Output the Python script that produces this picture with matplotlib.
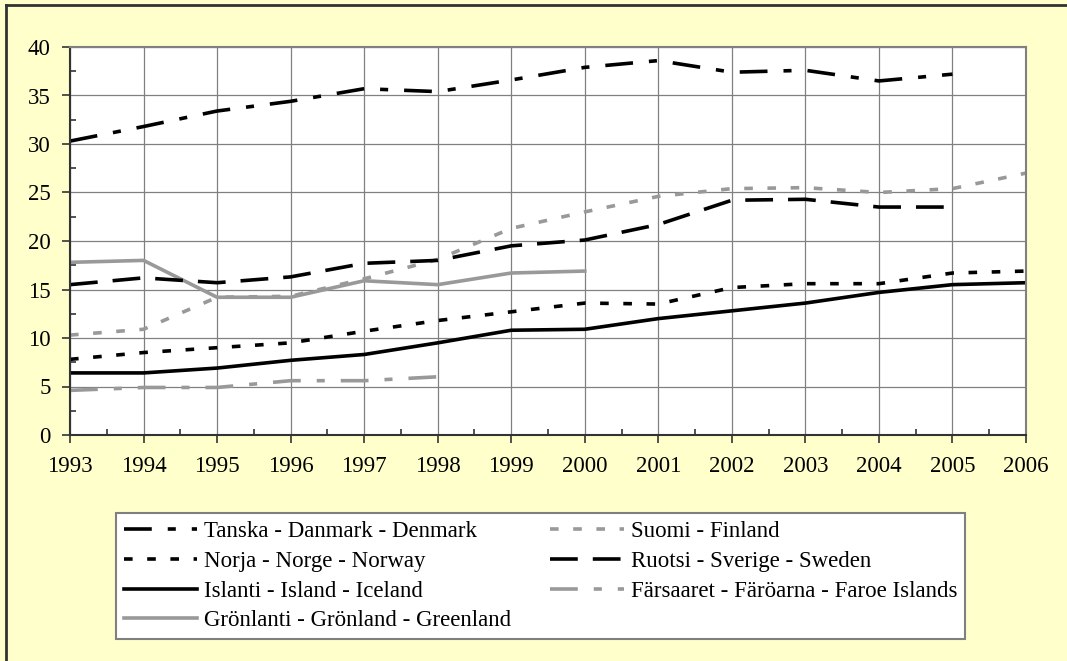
import numpy as np
import matplotlib
matplotlib.use("Agg")
import matplotlib.pyplot as plt
from matplotlib.lines import Line2D
from matplotlib.ticker import MultipleLocator

plt.rcParams['font.family'] = ['Liberation Serif', 'DejaVu Serif']
plt.rcParams['lines.scale_dashes'] = False

years = list(range(1993, 2007))
nan = np.nan

denmark = [30.3, 31.8, 33.4, 34.4, 35.7, 35.4, 36.6, 37.9, 38.6, 37.4, 37.6, 36.5, 37.2, nan]
finland = [10.3, 10.9, 14.2, 14.3, 16.1, 18.1, 21.3, 23.0, 24.6, 25.4, 25.5, 25.0, 25.4, 27.0]
norway = [7.8, 8.5, 9.0, 9.5, 10.7, 11.8, 12.7, 13.6, 13.5, 15.2, 15.6, 15.6, 16.7, 16.9]
sweden = [15.5, 16.2, 15.7, 16.3, 17.7, 18.0, 19.5, 20.1, 21.7, 24.2, 24.3, 23.5, 23.5, nan]
iceland = [6.4, 6.4, 6.9, 7.7, 8.3, 9.5, 10.8, 10.9, 12.0, 12.8, 13.6, 14.7, 15.5, 15.7]
faroe = [4.6, 4.9, 4.9, 5.6, 5.6, 6.0, nan, nan, nan, nan, nan, nan, nan, nan]
greenland = [17.8, 18.0, 14.2, 14.2, 15.9, 15.5, 16.7, 16.9, nan, nan, nan, nan, nan, nan]

labels = {
    'denmark': 'Tanska - Danmark - Denmark',
    'norway': 'Norja - Norge - Norway',
    'iceland': 'Islanti - Island - Iceland',
    'greenland': 'Grönlanti - Grönland - Greenland',
    'finland': 'Suomi - Finland',
    'sweden': 'Ruotsi - Sverige - Sweden',
    'faroe': 'Färsaaret - Färöarna - Faroe Islands',
}

W, H = 1067, 661
fig = plt.figure(figsize=(W / 100, H / 100), dpi=100)
fig.patch.set_facecolor('#FFFFCC')

ax = fig.add_axes([70 / W, 1 - 435 / H, 956 / W, 388 / H])
ax.set_facecolor('white')

gray = '#999999'
lw = 2.6
dash_dot = (0, (20, 11.5, 5.8, 11.5))
sq_dot = (0, (6.2, 10.5))
long_dash = (0, (20, 10.8))

ax.plot(years, denmark, color='black', lw=lw, linestyle=dash_dot, label=labels['denmark'])
ax.plot(years, norway, color='black', lw=lw, linestyle=sq_dot, label=labels['norway'])
ax.plot(years, iceland, color='black', lw=lw, linestyle='-', label=labels['iceland'])
ax.plot(years, greenland, color=gray, lw=lw, linestyle='-', label=labels['greenland'])
ax.plot(years, finland, color=gray, lw=lw, linestyle=sq_dot, label=labels['finland'])
ax.plot(years, sweden, color='black', lw=lw, linestyle=long_dash, label=labels['sweden'])
ax.plot(years, faroe, color=gray, lw=lw, linestyle=dash_dot, label=labels['faroe'])

ax.set_xlim(1993, 2006)
ax.set_ylim(0, 40)
ax.set_xticks(years)
ax.set_yticks(range(0, 41, 5))
ax.xaxis.set_minor_locator(MultipleLocator(0.5))
ax.yaxis.set_minor_locator(MultipleLocator(2.5))
ax.grid(True, which='major', color='#808080', lw=0.9)
ax.set_axisbelow(True)

ax.tick_params(axis='both', which='major', direction='out', length=6, width=1.2,
               color='#333333', labelsize=16.5, labelcolor='black')
ax.tick_params(axis='both', which='minor', direction='in', length=4, width=1.2,
               color='#333333')
ax.tick_params(axis='x', which='major', pad=9)
ax.tick_params(axis='y', which='major', pad=8)

for side in ['top', 'right']:
    ax.spines[side].set_color('#808080')
    ax.spines[side].set_linewidth(1.5)
for side in ['left', 'bottom']:
    ax.spines[side].set_color('#333333')
    ax.spines[side].set_linewidth(1.5)

leg = fig.legend(loc='upper left', bbox_to_anchor=(116 / W, 1 - 513 / H), ncol=2,
                 fontsize=16.5, frameon=True, fancybox=False, shadow=False,
                 edgecolor='#808080', facecolor='white', framealpha=1,
                 handlelength=3.2, handletextpad=0.3, columnspacing=1.7,
                 labelspacing=0.38, borderpad=0.35, borderaxespad=0)
leg.get_frame().set_linewidth(1.5)

# outer chart frame (top and left edges)
fig.add_artist(Line2D([6 / W, 6 / W], [0, 1 - 5 / H], transform=fig.transFigure,
                      color='#333333', lw=2))
fig.add_artist(Line2D([6 / W, 1], [1 - 5 / H, 1 - 5 / H], transform=fig.transFigure,
                      color='#333333', lw=2))

fig.savefig('out.png', dpi=100, facecolor=fig.get_facecolor())
